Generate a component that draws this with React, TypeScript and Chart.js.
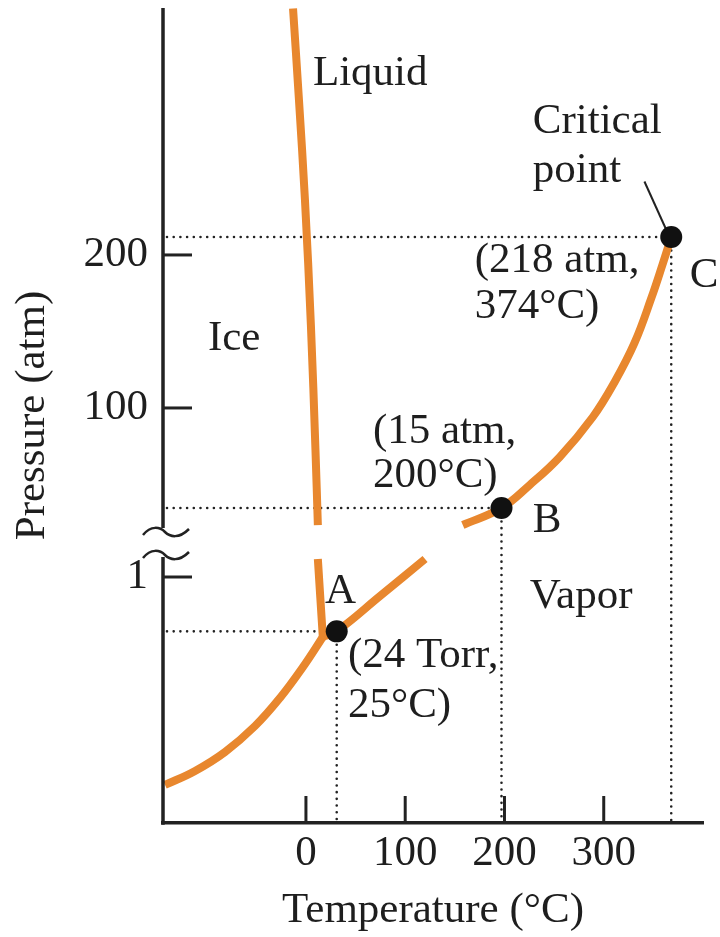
import React, { useEffect, useRef } from 'react';
import { Chart, registerables } from 'chart.js';

Chart.register(...registerables);

// ---------- data (temperature in °C, pressure in atm) ----------
const xTickValues = [0, 100, 200, 300];
const highTickValues = [100, 200];
const lowTickValues = [1];

// solid–liquid line, high-pressure part
const meltHighT = [-13, -7, -1, 5, 9.6, 12];
const meltHighP = [361, 301, 236, 154, 72.5, 23.5];
// solid–liquid line, low-pressure part
const meltLowT = [12, 17];
const meltLowP = [3.09, 0.0232];
// solid–vapor (sublimation) line
const sublT = [-142, -111.7, -81.5, -51.3, -26.2, -3, 17];
const sublP = [2.15e-6, 5.2e-6, 1.71e-5, 8.7e-5, 5.05e-4, 3.53e-3, 0.0232];
// liquid–vapor line, low-pressure part
const vapLowT = [17, 31, 74.5, 120];
const vapLowP = [0.0232, 0.033, 0.3, 3.09];
// liquid–vapor line, high-pressure part
const vapHighT = [158, 197, 225.5, 255.7, 289, 311, 331, 348, 359.4, 368];
const vapHighP = [23.5, 34.6, 49.7, 68, 94.1, 117, 142.5, 171.9, 194.1, 211.7];

// marked points A, B, C
const markT = [31, 197, 368];
const markP = [0.033, 34.6, 211.7];
const markAxis = ['yLow', 'yHigh', 'yHigh'];

// leader line from "Critical point" to C
const leaderT = [341, 364];
const leaderP = [248, 215];

// ---------- layout / style ----------
const ORANGE = '#E8872E';
const INK = '#1e1e1e';
const FONT = "'Liberation Serif', 'Times New Roman', serif";
const FS = 43;

const xRange = { min: -144, max: 400 };
const highRange = { min: 12.4, max: 361.4 };
const lowRange = { min: 1.98e-7, max: 8.99 };

const annotations = [
  { text: 'Liquid', t: 7, p: 311, axis: 'yHigh' },
  { text: 'Ice', t: -98.7, p: 138, axis: 'yHigh' },
  { text: 'Critical', t: 228.5, p: 280, axis: 'yHigh' },
  { text: 'point', t: 228.5, p: 248, axis: 'yHigh' },
  { text: '(218 atm,', t: 170, p: 189, axis: 'yHigh' },
  { text: '374°C)', t: 170, p: 159, axis: 'yHigh' },
  { text: 'C', t: 386.6, p: 179, axis: 'yHigh' },
  { text: '(15 atm,', t: 67.5, p: 77.1, axis: 'yHigh' },
  { text: '200°C)', t: 67.5, p: 48.3, axis: 'yHigh' },
  { text: 'B', t: 228.5, p: 18.9, axis: 'yHigh' },
  { text: 'Vapor', t: 225.5, p: 0.143, axis: 'yLow' },
  { text: 'A', t: 19.1, p: 0.196, axis: 'yLow' },
  { text: '(24 Torr,', t: 42.3, p: 0.00353, axis: 'yLow' },
  { text: '25°C)', t: 42.3, p: 0.000153, axis: 'yLow' },
];

const pts = (ts: number[], ps: number[]) => ts.map((t, i) => ({ x: t, y: ps[i] }));

const curve = (ts: number[], ps: number[], axis: string) => ({
  data: pts(ts, ps),
  yAxisID: axis,
  borderColor: ORANGE,
  borderWidth: 8,
  pointRadius: 0,
  tension: 0.4,
  fill: false,
  borderCapStyle: 'butt' as const,
  borderJoinStyle: 'round' as const,
});

const decorPlugin = {
  id: 'phaseDecor',
  beforeDatasetsDraw(chart: any) {
    const { ctx, chartArea: area } = chart;
    const xs = chart.scales.x;
    ctx.save();
    ctx.strokeStyle = '#222';
    ctx.lineWidth = 2.6;
    ctx.lineCap = 'round';
    ctx.setLineDash([0, 6.7]);
    markT.forEach((t, i) => {
      const sc = chart.scales[markAxis[i]];
      const px = xs.getPixelForValue(t);
      const py = sc.getPixelForValue(markP[i]);
      ctx.beginPath();
      ctx.moveTo(area.left + 4, py);
      ctx.lineTo(px, py);
      ctx.stroke();
      ctx.beginPath();
      ctx.moveTo(px, py);
      ctx.lineTo(px, area.bottom - 3);
      ctx.stroke();
    });
    ctx.restore();
  },
  afterDraw(chart: any) {
    const { ctx, chartArea: area } = chart;
    const xs = chart.scales.x;
    const hi = chart.scales.yHigh;
    const lo = chart.scales.yLow;
    ctx.save();
    ctx.strokeStyle = '#222';
    ctx.lineCap = 'butt';
    // broken y axis
    ctx.lineWidth = 3.5;
    ctx.beginPath();
    ctx.moveTo(area.left, hi.top);
    ctx.lineTo(area.left, hi.bottom - 14);
    ctx.moveTo(area.left, lo.top + 15);
    ctx.lineTo(area.left, lo.bottom + 1.75);
    ctx.stroke();
    // break marks
    ctx.lineWidth = 2.5;
    [hi.bottom - 10, lo.top + 13].forEach((cy) => {
      const cx = area.left + 2;
      ctx.beginPath();
      ctx.moveTo(cx - 22, cy + 3);
      ctx.bezierCurveTo(cx - 14, cy - 7, cx - 5, cy - 5, cx, cy);
      ctx.bezierCurveTo(cx + 5, cy + 5, cx + 14, cy + 7, cx + 24, cy - 3);
      ctx.stroke();
    });
    // inward tick marks
    ctx.lineWidth = 3;
    xTickValues.forEach((v) => {
      const px = xs.getPixelForValue(v);
      ctx.beginPath();
      ctx.moveTo(px, area.bottom);
      ctx.lineTo(px, area.bottom - 27);
      ctx.stroke();
    });
    const yt = (sc: any, v: number) => {
      const py = sc.getPixelForValue(v);
      ctx.beginPath();
      ctx.moveTo(area.left, py);
      ctx.lineTo(area.left + 29, py);
      ctx.stroke();
    };
    highTickValues.forEach((v) => yt(hi, v));
    lowTickValues.forEach((v) => yt(lo, v));

    // text labels
    ctx.fillStyle = INK;
    ctx.font = `${FS}px ${FONT}`;
    ctx.textAlign = 'left';
    ctx.textBaseline = 'alphabetic';
    annotations.forEach((a) => {
      const sc = chart.scales[a.axis];
      ctx.fillText(a.text, xs.getPixelForValue(a.t), sc.getPixelForValue(a.p));
    });
    // y-axis title centred on the whole (broken) axis
    ctx.translate(33, (area.top + area.bottom) / 2);
    ctx.rotate(-Math.PI / 2);
    ctx.textAlign = 'center';
    ctx.textBaseline = 'middle';
    ctx.fillText('Pressure (atm)', 0, 0);
    ctx.restore();
  },
};

const tickFont = { family: FONT, size: FS };

export default function App() {
  const ref = useRef<HTMLCanvasElement>(null);
  useEffect(() => {
    if (!ref.current) return;
    Chart.defaults.font.family = FONT;
    const chart = new Chart(ref.current, {
      type: 'line',
      data: {
        datasets: [
          {
            data: pts(markT.slice(1), markP.slice(1)),
            yAxisID: 'yHigh',
            showLine: false,
            pointRadius: 11,
            pointBackgroundColor: '#111',
            pointBorderWidth: 0,
          } as any,
          {
            data: pts(markT.slice(0, 1), markP.slice(0, 1)),
            yAxisID: 'yLow',
            showLine: false,
            pointRadius: 11,
            pointBackgroundColor: '#111',
            pointBorderWidth: 0,
          },
          {
            data: pts(leaderT, leaderP),
            yAxisID: 'yHigh',
            borderColor: '#222',
            borderWidth: 2,
            pointRadius: 0,
          },
          curve(meltHighT, meltHighP, 'yHigh'),
          curve(meltLowT, meltLowP, 'yLow'),
          curve(sublT, sublP, 'yLow'),
          curve(vapLowT, vapLowP, 'yLow'),
          curve(vapHighT, vapHighP, 'yHigh'),
        ],
      },
      options: {
        responsive: true,
        maintainAspectRatio: false,
        animation: false,
        events: [],
        layout: { autoPadding: false, padding: { top: 8, right: 17, left: 0, bottom: 0 } },
        plugins: { legend: { display: false }, tooltip: { enabled: false } },
        scales: {
          x: {
            type: 'linear',
            position: 'bottom',
            min: xRange.min,
            max: xRange.max,
            afterBuildTicks: (s: any) => {
              s.ticks = xTickValues.map((v) => ({ value: v }));
            },
            afterFit: (s: any) => {
              s.height = 114;
              s.paddingLeft = 0;
              s.paddingRight = 0;
            },
            grid: { display: false, drawTicks: false },
            border: { display: true, color: '#222', width: 3.5 },
            ticks: { padding: 5, color: INK, font: tickFont, maxRotation: 0 },
            title: {
              display: true,
              text: 'Temperature (°C)',
              color: INK,
              font: tickFont,
              padding: { top: 0, bottom: 0 },
            },
          },
          yLow: {
            type: 'logarithmic',
            position: 'left',
            stack: 'pressure',
            stackWeight: 281,
            weight: 0,
            min: lowRange.min,
            max: lowRange.max,
            afterBuildTicks: (s: any) => {
              s.ticks = lowTickValues.map((v) => ({ value: v }));
            },
            afterFit: (s: any) => {
              s.width = 163;
              s.paddingTop = 0;
              s.paddingBottom = 0;
            },
            grid: { display: false, drawTicks: false },
            border: { display: false },
            ticks: { padding: 15, color: INK, font: tickFont, callback: (v: any) => String(v) },
          },
          yHigh: {
            type: 'linear',
            position: 'left',
            stack: 'pressure',
            stackWeight: 534,
            weight: 1,
            min: highRange.min,
            max: highRange.max,
            afterBuildTicks: (s: any) => {
              s.ticks = highTickValues.map((v) => ({ value: v }));
            },
            afterFit: (s: any) => {
              s.width = 163;
              s.paddingTop = 0;
              s.paddingBottom = 0;
            },
            grid: { display: false, drawTicks: false },
            border: { display: false },
            ticks: { padding: 15, color: INK, font: tickFont, callback: (v: any) => String(v) },
          },
        } as any,
      },
      plugins: [decorPlugin],
    } as any);
    return () => chart.destroy();
  }, []);
  return (
    <div style={{ position: 'fixed', left: 0, top: 0, width: 720, height: 937, background: '#fff' }}>
      <canvas ref={ref} />
    </div>
  );
}
